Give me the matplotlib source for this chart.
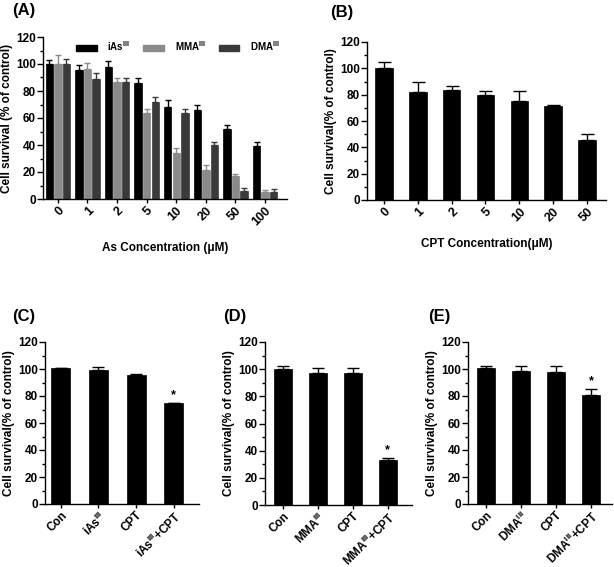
import numpy as np
import matplotlib
matplotlib.use("Agg")
import matplotlib.pyplot as plt
from matplotlib.ticker import MultipleLocator
from matplotlib.patches import Patch

plt.rcParams["font.family"] = ["Liberation Sans", "DejaVu Sans"]
plt.rcParams["font.weight"] = "bold"
plt.rcParams["mathtext.fontset"] = "custom"
plt.rcParams["mathtext.rm"] = "Liberation Sans:bold"
plt.rcParams["mathtext.it"] = "Liberation Sans:bold"
plt.rcParams["mathtext.bf"] = "Liberation Sans:bold"

# ==================================================
# Data
# ==================================================

# (A) arsenic species
as_conc = ["0", "1", "2", "5", "10", "20", "50", "100"]
ias_mean = [100, 95.5, 98, 86, 68, 66, 52, 39.5]
ias_err = [3, 3.5, 4, 3.5, 5, 3.5, 2.5, 2.5]
mma_mean = [100, 96.5, 86.5, 63.5, 34, 21.5, 17, 5.5]
mma_err = [7, 4, 3, 3, 3.5, 3.5, 1.5, 1.5]
dma_mean = [100, 89, 86.5, 72, 64, 40, 6, 5.5]
dma_err = [4, 4, 3, 3.5, 3, 2.5, 2, 2]

# (B) CPT alone
cpt_conc = ["0", "1", "2", "5", "10", "20", "50"]
cpt_mean = [100, 82, 83.5, 80, 75.5, 71.5, 45.5]
cpt_err = [4.5, 7.5, 3, 3, 7, 0.5, 5]

# (C)-(E) combinations
c_labels = ["Con", r"iAs$^{\mathbf{III}}$", "CPT", r"iAs$^{\mathbf{III}}$+CPT"]
c_mean = [100.5, 99, 95.5, 74.5]
c_err = [0.5, 2.5, 0.5, 0.5]

d_labels = ["Con", r"MMA$^{\mathbf{III}}$", "CPT", r"MMA$^{\mathbf{III}}$+CPT"]
d_mean = [100, 97, 97.5, 33]
d_err = [2, 3.5, 3, 1.5]

e_labels = ["Con", r"DMA$^{\mathbf{III}}$", "CPT", r"DMA$^{\mathbf{III}}$+CPT"]
e_mean = [100.5, 98.5, 97.5, 81]
e_err = [1.5, 4, 5, 4]

star_idx = 3

W, H = 614, 567
fig = plt.figure(figsize=(W / 100, H / 100), dpi=100)


def px_axes(left, top, right, bottom):
    return fig.add_axes([left / W, 1 - bottom / H, (right - left) / W, (bottom - top) / H])


def style_axes(ax):
    for s in ["top", "right"]:
        ax.spines[s].set_visible(False)
    for s in ["left", "bottom"]:
        ax.spines[s].set_linewidth(1.0)
    ax.set_ylim(0, 120)
    ax.yaxis.set_major_locator(MultipleLocator(20))
    ax.yaxis.set_minor_locator(MultipleLocator(10))
    ax.tick_params(axis="y", which="major", length=4, width=1, labelsize=8.5, pad=1)
    ax.tick_params(axis="y", which="minor", length=2.5, width=1)
    ax.tick_params(axis="x", length=3, width=1, labelsize=8.5, pad=1)
    for t in ax.get_yticklabels():
        t.set_fontweight("bold")


def bars(ax, x, mean, err, color, width):
    ax.bar(x, mean, width=width, color=color, edgecolor=color, linewidth=0.5)
    ax.errorbar(x, mean, yerr=[np.zeros(len(err)), err], fmt="none",
                ecolor=color, elinewidth=1, capsize=width * 9, capthick=1)


# --------------------------------------------------
# (A)
# --------------------------------------------------
axA = px_axes(43, 37, 287, 199)
xa = np.arange(len(as_conc))
off = 0.29
bw = 0.25
bars(axA, xa - off, ias_mean, ias_err, "#000000", bw)
bars(axA, xa, mma_mean, mma_err, "#8a8a8a", bw)
bars(axA, xa + off, dma_mean, dma_err, "#3a3a3a", bw)
axA.set_xlim(-0.5, 7.74)
style_axes(axA)
axA.set_xticks(xa)
axA.set_xticklabels(as_conc, rotation=45, ha="right", rotation_mode="anchor", fontweight="bold",
                    fontsize=9)
axA.set_ylabel("Cell survival (% of control)", fontsize=8.5, fontweight="bold", labelpad=2)
axA.set_xlabel("As Concentration (μM)", fontsize=8.5, fontweight="bold", labelpad=10)

handles = [Patch(color="#000000"), Patch(color="#8a8a8a"), Patch(color="#3a3a3a")]
axA.legend(handles, [r"iAs$^{\mathbf{III}}$", r"MMA$^{\mathbf{III}}$", r"DMA$^{\mathbf{III}}$"],
           ncol=3, frameon=False, loc="upper left", bbox_to_anchor=(0.1, 1.04),
           handlelength=2.1, handleheight=0.55, columnspacing=1.4, handletextpad=1.1,
           prop={"size": 7, "weight": "bold"})
fig.text(12 / W, 1 - 11 / H, "(A)", fontsize=12, fontweight="bold", va="center")

# --------------------------------------------------
# (B)
# --------------------------------------------------
axB = px_axes(367, 42, 606, 200)
xb = np.arange(len(cpt_conc))
bars(axB, xb, cpt_mean, cpt_err, "#000000", 0.52)
axB.set_xlim(-0.5, 6.56)
style_axes(axB)
axB.set_xticks(xb)
axB.set_xticklabels(cpt_conc, rotation=45, ha="right", rotation_mode="anchor", fontweight="bold",
                    fontsize=9)
axB.set_ylabel("Cell survival(% of control)", fontsize=8.5, fontweight="bold", labelpad=2)
axB.set_xlabel("CPT Concentration(μM)", fontsize=8.5, fontweight="bold", labelpad=10)
fig.text(330 / W, 1 - 12 / H, "(B)", fontsize=12, fontweight="bold", va="center")

# --------------------------------------------------
# (C) (D) (E)
# --------------------------------------------------
panels = [
    ("(C)", c_labels, c_mean, c_err, (45, 342, 199, 504), 0.67, (12, 317)),
    ("(D)", d_labels, d_mean, d_err, (265, 342, 412, 505), 0.69, (223, 317)),
    ("(E)", e_labels, e_mean, e_err, (468, 342, 612, 504), 0.60, (428, 317)),
]
for tag, labels, mean, err, box, xr, tpos in panels:
    ax = px_axes(*box)
    x = np.arange(len(labels))
    bars(ax, x, mean, err, "#000000", 0.5)
    ax.set_xlim(-0.42 if tag == "(C)" else -0.51, len(labels) - 1 + xr)
    style_axes(ax)
    ax.set_xticks(x)
    ax.set_xticklabels(labels, rotation=45, ha="right", rotation_mode="anchor", fontweight="bold")
    ax.set_ylabel("Cell survival(% of control)", fontsize=8.5, fontweight="bold", labelpad=2)
    ax.text(x[star_idx], mean[star_idx] + err[star_idx] + 1.5, "*", ha="center", va="bottom",
            fontsize=9, fontweight="bold")
    fig.text(tpos[0] / W, 1 - tpos[1] / H, tag, fontsize=12, fontweight="bold", va="center")

fig.savefig("out.png", dpi=100)
